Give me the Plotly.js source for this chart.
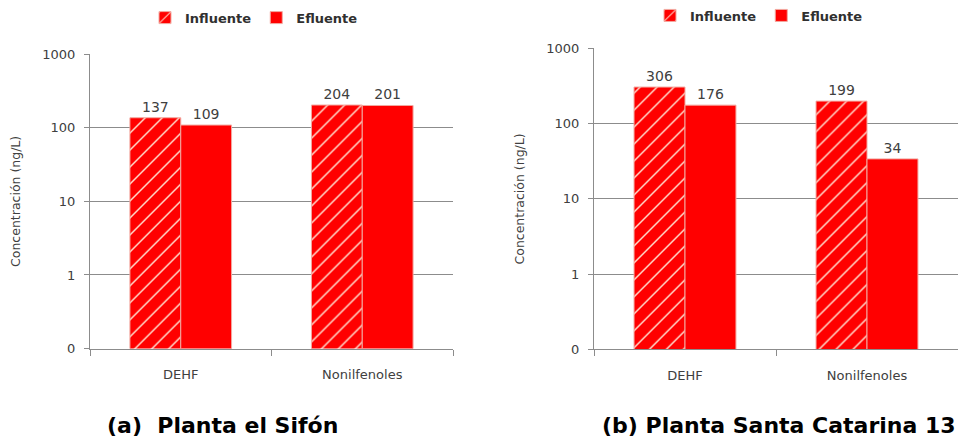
<!DOCTYPE html>
<html>
<head>
<meta charset="utf-8">
<script src="https://cdn.plot.ly/plotly-3.0.1.min.js"></script>
<style>html,body{margin:0;padding:0;background:#fff;}#chart{width:961px;height:442px;}</style>
</head>
<body>
<div id="chart"></div>
<script>
const categories = ["DEHF", "Nonilfenoles"];
const sifonInfluente = [137, 204];
const sifonEfluente = [109, 201];
const catarinaInfluente = [306, 199];
const catarinaEfluente = [176, 34];
const yTickVals = [0.1, 1, 10, 100, 1000];
const yTickText = ["0", "1", "10", "100", "1000"];
const seriesNames = ["Influente", "Efluente"];
const panelTitles = ["(a)  Planta el Sifón", "(b) Planta Santa Catarina 13"];

const red = "#ff0000";
const textFont = {family: "DejaVu Sans, sans-serif", size: 13, color: "#404040"};
const labelFont = {family: "DejaVu Sans, sans-serif", size: 14, color: "#404040"};

function hatched(x, y, xa, ya, legend, show) {
  return {
    type: "bar", x: x, y: y, xaxis: xa, yaxis: ya, name: seriesNames[0], legend: legend,
    showlegend: show,
    marker: {color: red, line: {color: "#f2a9a0", width: 1},
      pattern: {shape: "/", fgcolor: "#ffe0d0", bgcolor: red, size: 12, solidity: 0.12}},
    text: y.map(String), textposition: "outside", cliponaxis: false,
    textfont: labelFont, hoverinfo: "x+y"
  };
}
function solid(x, y, xa, ya, legend, show) {
  return {
    type: "bar", x: x, y: y, xaxis: xa, yaxis: ya, name: seriesNames[1], legend: legend,
    showlegend: show,
    marker: {color: red, line: {color: "#f2a9a0", width: 1}},
    text: y.map(String), textposition: "outside", cliponaxis: false,
    textfont: labelFont, hoverinfo: "x+y"
  };
}

const data = [
  hatched(categories, sifonInfluente, "x", "y", "legend", true),
  solid(categories, sifonEfluente, "x", "y", "legend", true),
  hatched(categories, catarinaInfluente, "x2", "y2", "legend2", true),
  solid(categories, catarinaEfluente, "x2", "y2", "legend2", true)
];

function xaxis(domain, anchor) {
  return {
    domain: domain, anchor: anchor, type: "category", range: [-0.5, 1.5],
    showline: true, linecolor: "#8c8c8c", linewidth: 1,
    ticks: "outside", tickson: "boundaries", ticklen: 6, tickcolor: "#8c8c8c",
    ticklabelstandoff: 14,
    showgrid: false, tickfont: textFont, fixedrange: true
  };
}
function yaxis(domain, anchor) {
  return {
    domain: domain, anchor: anchor, type: "log", range: [-1, 3],
    tickvals: yTickVals, ticktext: yTickText,
    showline: true, linecolor: "#8c8c8c", linewidth: 1,
    ticks: "outside", ticklen: 5, tickcolor: "#8c8c8c",
    ticklabelstandoff: 6,
    showgrid: true, gridcolor: "#8c8c8c", gridwidth: 1, zeroline: false,
    tickfont: textFont, fixedrange: true,
    title: {text: "Concentración (ng/L)", font: {family: "DejaVu Sans, sans-serif", size: 12.5, color: "#404040"}, standoff: 18}
  };
}

const legendFont = {family: "DejaVu Sans, sans-serif", size: 13, color: "#303030", weight: "bold"};
const layout = {
  width: 961, height: 442,
  margin: {l: 0, r: 0, t: 0, b: 0},
  paper_bgcolor: "#fff", plot_bgcolor: "#fff",
  barmode: "group", bargap: 0.44, bargroupgap: 0,
  xaxis: xaxis([90/961, 453/961], "y"),
  yaxis: yaxis([1 - 347/442, 1 - 48/442], "x"),
  xaxis2: xaxis([594/961, 958/961], "y2"),
  yaxis2: yaxis([1 - 348/442, 1 - 42/442], "x2"),
  legend: {orientation: "h", x: 145/961, xanchor: "left", y: 1.01, yanchor: "top",
    font: legendFont, bgcolor: "rgba(0,0,0,0)", itemwidth: 30, traceorder: "normal"},
  legend2: {orientation: "h", x: 650/961, xanchor: "left", y: 1.015, yanchor: "top",
    font: legendFont, bgcolor: "rgba(0,0,0,0)", itemwidth: 30, traceorder: "normal"},
  annotations: [
    {text: "<b>" + panelTitles[0] + "</b>", xref: "paper", yref: "paper", x: 222/961, y: 1 - 425/442,
      xanchor: "center", yanchor: "middle", showarrow: false,
      font: {family: "DejaVu Sans, sans-serif", size: 22, color: "#000"}},
    {text: "<b>" + panelTitles[1] + "</b>", xref: "paper", yref: "paper", x: 779/961, y: 1 - 425/442,
      xanchor: "center", yanchor: "middle", showarrow: false,
      font: {family: "DejaVu Sans, sans-serif", size: 22, color: "#000"}}
  ]
};

Plotly.newPlot("chart", data, layout, {displayModeBar: false, staticPlot: true});
</script>
</body>
</html>
